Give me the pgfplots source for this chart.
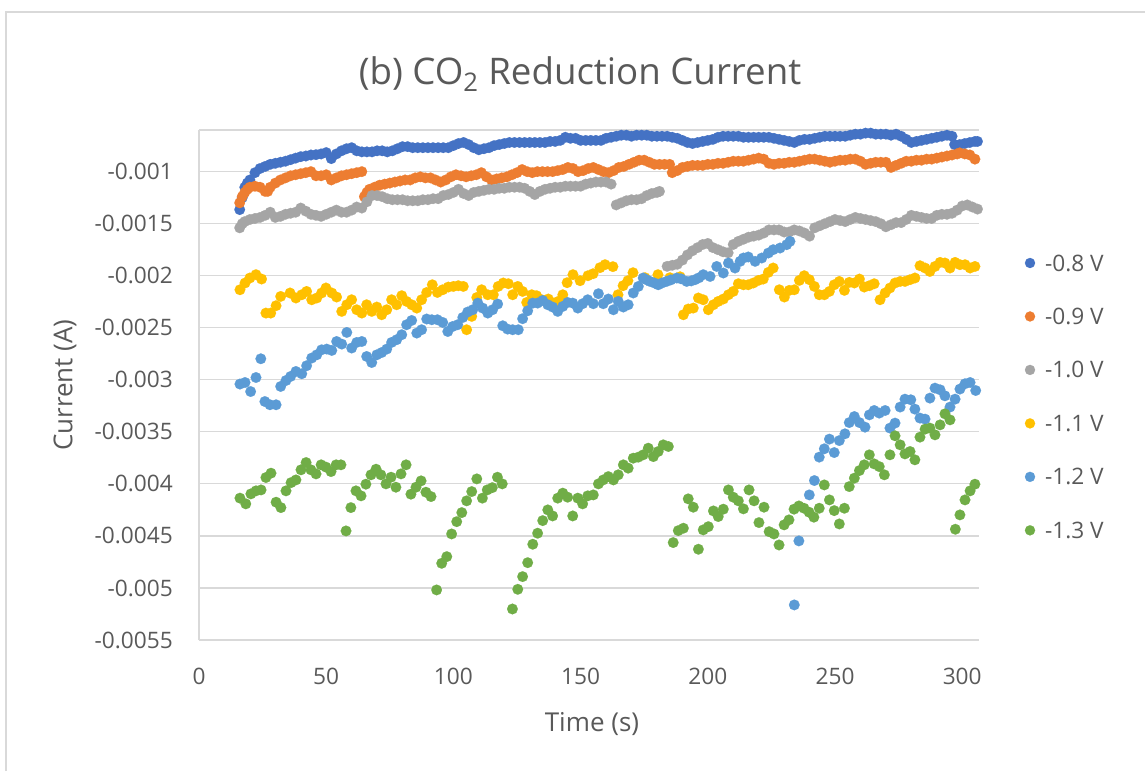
\documentclass[border=0pt]{standalone}
\usepackage{pgfplots}
\pgfplotsset{compat=1.18}
\usepackage{fontspec}
\setmainfont{Open Sans}
\definecolor{cA}{HTML}{4472C4}
\definecolor{cB}{HTML}{ED7D31}
\definecolor{cC}{HTML}{A5A5A5}
\definecolor{cD}{HTML}{FFC000}
\definecolor{cE}{HTML}{5B9BD5}
\definecolor{cF}{HTML}{70AD47}
\definecolor{txt}{HTML}{595959}
\definecolor{grd}{HTML}{D9D9D9}
\pgfplotsset{dot/.style={only marks, mark=*, mark size=4.0pt, color=#1, mark options={fill=#1, draw=#1, line width=0.1pt}}}
\begin{document}
\begin{tikzpicture}
\begin{axis}[
  name=ax, at={(0pt,0pt)}, anchor=south west,
  scale only axis, width=585pt, height=382.5pt,
  xmin=0, xmax=306.6, ymin=-0.0055, ymax=-0.0006,
  clip=false,
  axis x line*=bottom, axis y line*=left,
  axis line style={draw=grd, line width=0.9pt, -},
  xtick={0,50,100,150,200,250,300},
  xticklabels={0,50,100,150,200,250,300},
  ytick={-0.0055,-0.005,-0.0045,-0.004,-0.0035,-0.003,-0.0025,-0.002,-0.0015,-0.001},
  yticklabels={-0.0055,-0.005,-0.0045,-0.004,-0.0035,-0.003,-0.0025,-0.002,-0.0015,-0.001},
  scaled y ticks=false, scaled x ticks=false,
  extra y ticks={-0.0006}, extra y tick labels={},
  extra y tick style={grid=major},
  major tick length=0pt,
  ymajorgrids, grid style={draw=grd, line width=0.9pt},
  tick label style={font=\fontsize{17pt}{20pt}\selectfont, text=txt, inner sep=0pt},
  xticklabel style={anchor=north, yshift=-21pt},
  yticklabel style={anchor=east, xshift=-19.5pt},
  legend style={at={(axis description cs:1.0589,0.7549)}, anchor=north west, draw=none, fill=none,
    inner sep=0pt, outer sep=0pt, row sep=28.1pt, column sep=7.5pt,
    font=\fontsize{17pt}{20pt}\selectfont, text=txt,
    nodes={inner sep=0pt, text height=12pt, text depth=0pt}},
  legend cell align=left,
  legend image code/.code={\draw[#1, mark size=3.8pt] plot coordinates {(0pt,0pt)};},
]
% -0.8 V
\addplot[dot=cA] coordinates {
(16,-0.001365)(17,-0.00125)(18,-0.00115)(19,-0.00111)(20,-0.00108)(22,-0.00101)(24,-0.00097)(26,-0.00095)(28,-0.00093)(30,-0.00092)
(32,-0.00091)(34,-0.0009)(36,-0.000885)(38,-0.00087)(40,-0.000856)(42,-0.00085)(44,-0.00084)(46,-0.000837)(48,-0.00083)(50,-0.000817)
(52,-0.000875)(54,-0.00083)(56,-0.0008)(58,-0.00078)(60,-0.00077)(62,-0.0008)(64,-0.00081)(66,-0.00081)(68,-0.00081)(70,-0.0008)
(72,-0.0008)(74,-0.00081)(76,-0.0008)(78,-0.00078)(80,-0.00076)(82,-0.00076)(84,-0.00077)(86,-0.00077)(88,-0.00077)(90,-0.00077)
(92,-0.00077)(94,-0.00077)(96,-0.00077)(98,-0.00077)(100,-0.00075)(102,-0.00073)(104,-0.00072)(106,-0.00074)(108,-0.00077)(110,-0.00079)
(112,-0.00078)(114,-0.00077)(116,-0.00075)(118,-0.00074)(120,-0.00073)(122,-0.00072)(124,-0.00072)(126,-0.00072)(128,-0.00072)(130,-0.00072)
(132,-0.00072)(134,-0.00072)(136,-0.00072)(138,-0.00071)(140,-0.00071)(142,-0.0007)(144,-0.00067)(146,-0.00068)(148,-0.00068)(150,-0.0007)
(152,-0.0007)(154,-0.0007)(156,-0.0007)(158,-0.0007)(160,-0.00068)(162,-0.00067)(164,-0.00066)(166,-0.00065)(168,-0.00065)(170,-0.00066)
(172,-0.00065)(174,-0.00065)(176,-0.00065)(178,-0.00066)(180,-0.00066)(182,-0.00066)(184,-0.00066)(186,-0.00067)(188,-0.00068)(190,-0.0007)
(192,-0.00072)(194,-0.00073)(196,-0.00072)(198,-0.00071)(200,-0.0007)(202,-0.00069)(204,-0.00067)(206,-0.00066)(208,-0.00066)(210,-0.00066)
(212,-0.00066)(214,-0.00067)(216,-0.00067)(218,-0.00067)(220,-0.00067)(222,-0.00067)(224,-0.00067)(226,-0.00068)(228,-0.00069)(230,-0.0007)
(232,-0.00071)(234,-0.00072)(236,-0.0007)(238,-0.00069)(240,-0.00069)(242,-0.00068)(244,-0.00067)(246,-0.00066)(248,-0.00066)(250,-0.00066)
(252,-0.00066)(254,-0.00066)(256,-0.00065)(258,-0.00064)(260,-0.00064)(262,-0.00063)(264,-0.00063)(266,-0.00064)(268,-0.00064)(270,-0.00064)
(272,-0.00065)(274,-0.00064)(276,-0.00066)(278,-0.00069)(280,-0.00072)(282,-0.00071)(284,-0.0007)(286,-0.00069)(288,-0.00068)(290,-0.00067)
(292,-0.00066)(294,-0.00065)(296,-0.00066)(297,-0.00074)(299,-0.00074)(301,-0.00073)(303,-0.00072)(305,-0.00071)(306,-0.00071)
};
\addlegendentry{-0.8 V}
% -0.9 V
\addplot[dot=cB] coordinates {
(16,-0.0013)(17,-0.00124)(18,-0.0012)(19,-0.00117)(20,-0.00115)(22,-0.00114)(24,-0.00115)(26,-0.00119)(27,-0.00119)(28,-0.00115)
(30,-0.00111)(32,-0.00108)(34,-0.00106)(36,-0.00104)(38,-0.00103)(40,-0.00102)(42,-0.00101)(44,-0.001)(46,-0.00104)(48,-0.00104)
(50,-0.00103)(52,-0.00108)(54,-0.00106)(56,-0.00104)(58,-0.00103)(60,-0.00102)(62,-0.00101)(64,-0.001)
(65,-0.00124)(66,-0.0012)(67,-0.00117)(69,-0.00115)(71,-0.00113)(73,-0.00112)(75,-0.00111)(77,-0.0011)(79,-0.00109)(81,-0.00108)
(83,-0.00108)(85,-0.00106)(87,-0.00105)(89,-0.00106)(91,-0.00106)(93,-0.00108)(95,-0.0011)(97,-0.00108)(99,-0.00105)(101,-0.00103)
(103,-0.00104)(105,-0.00105)(107,-0.00104)(109,-0.00103)(111,-0.00101)(113,-0.00105)(115,-0.00108)(117,-0.00107)(119,-0.00106)(121,-0.00105)
(123,-0.00103)(125,-0.00101)(127,-0.00098)(129,-0.001)(131,-0.00101)(133,-0.001)(135,-0.001)(137,-0.001)(139,-0.001)(141,-0.00099)
(143,-0.00098)(145,-0.00096)(147,-0.00097)(149,-0.001)(151,-0.00099)(153,-0.00097)(155,-0.00096)(157,-0.00098)(159,-0.001)(161,-0.00101)
(163,-0.00099)(165,-0.00096)(167,-0.00095)(169,-0.00093)(171,-0.00091)(173,-0.00089)(175,-0.00089)(177,-0.00091)(179,-0.00093)(181,-0.00093)
(183,-0.00093)(185,-0.00093)(186,-0.00101)(188,-0.00099)(190,-0.00096)(192,-0.00095)(194,-0.00094)(196,-0.00094)(198,-0.00094)(200,-0.00093)
(202,-0.00093)(204,-0.00092)(206,-0.00092)(208,-0.00091)(210,-0.0009)(212,-0.0009)(214,-0.0009)(216,-0.00089)(218,-0.00088)(220,-0.00087)
(222,-0.00088)(224,-0.00092)(226,-0.00093)(228,-0.00092)(230,-0.00092)(232,-0.00091)(234,-0.00091)(236,-0.0009)(238,-0.00089)(240,-0.00088)
(242,-0.00088)(244,-0.00089)(246,-0.0009)(248,-0.00091)(250,-0.0009)(252,-0.00089)(254,-0.00089)(256,-0.00088)(258,-0.00088)(260,-0.0009)
(262,-0.00093)(264,-0.00092)(266,-0.00091)(268,-0.00091)(270,-0.00091)(272,-0.00096)(274,-0.00094)(276,-0.00092)(278,-0.0009)(280,-0.0009)
(282,-0.00089)(284,-0.00089)(286,-0.00088)(288,-0.00088)(290,-0.00087)(292,-0.00086)(294,-0.00085)(296,-0.00084)(298,-0.00083)(299,-0.00082)
(301,-0.00083)(303,-0.00084)(305,-0.00088)
};
\addlegendentry{-0.9 V}
% -1.0 V
\addplot[dot=cC] coordinates {
(16,-0.00154)(17,-0.0015)(18,-0.00148)(20,-0.00146)(22,-0.00145)(24,-0.00144)(26,-0.00142)(28,-0.00139)(30,-0.00144)(32,-0.00143)
(34,-0.00141)(36,-0.0014)(38,-0.00139)(40,-0.00135)(42,-0.00138)(44,-0.00141)(46,-0.00142)(48,-0.00143)(50,-0.00141)(52,-0.00139)
(54,-0.00137)(56,-0.00139)(58,-0.00139)(60,-0.00137)(62,-0.00134)(64,-0.00135)(66,-0.00129)(68,-0.00123)(70,-0.00123)(72,-0.00124)
(74,-0.00126)(76,-0.00127)(78,-0.00127)(80,-0.00127)(82,-0.00128)(84,-0.00128)(86,-0.00128)(88,-0.00127)(90,-0.00127)(92,-0.00126)
(94,-0.00126)(96,-0.00123)(98,-0.00122)(100,-0.0012)(102,-0.00117)(104,-0.00121)(106,-0.00123)(108,-0.0012)(110,-0.00119)(112,-0.00118)
(114,-0.00117)(116,-0.00117)(118,-0.00116)(120,-0.00116)(122,-0.00115)(124,-0.00115)(126,-0.00115)(128,-0.00116)(130,-0.00119)(132,-0.00122)
(134,-0.00119)(136,-0.00117)(138,-0.00116)(140,-0.00115)(142,-0.00115)(144,-0.00114)(146,-0.00114)(148,-0.00114)(150,-0.00114)(152,-0.00112)
(154,-0.00111)(156,-0.0011)(158,-0.0011)(160,-0.0011)(162,-0.00112)
(164,-0.00132)(166,-0.0013)(168,-0.00128)(170,-0.00127)(172,-0.00127)(174,-0.00126)(176,-0.00123)(178,-0.00121)(180,-0.0012)(181,-0.00119)
(184,-0.00191)(186,-0.0019)(188,-0.00189)(190,-0.00185)(192,-0.0018)(194,-0.00176)(196,-0.00173)(198,-0.0017)(200,-0.00169)(202,-0.00173)
(204,-0.00175)(206,-0.00177)(208,-0.00178)(210,-0.0017)(212,-0.00167)(214,-0.00165)(216,-0.00163)(218,-0.00162)(220,-0.00161)(222,-0.00159)
(224,-0.00156)(226,-0.00156)(228,-0.00156)(230,-0.00158)(232,-0.00158)(234,-0.00156)(236,-0.00157)(238,-0.00159)(240,-0.00162)(242,-0.00154)
(244,-0.00152)(246,-0.0015)(248,-0.00148)(250,-0.00146)(252,-0.00147)(254,-0.00148)(256,-0.00146)(258,-0.00144)(260,-0.00145)(262,-0.00146)
(264,-0.00147)(266,-0.00148)(268,-0.0015)(270,-0.00153)(272,-0.00151)(274,-0.00149)(276,-0.00149)(278,-0.00146)(280,-0.00142)(282,-0.00143)
(284,-0.00144)(286,-0.00145)(288,-0.00145)(290,-0.00142)(292,-0.00141)(294,-0.00141)(296,-0.0014)(298,-0.00137)(300,-0.00133)(302,-0.00132)
(304,-0.00134)(306,-0.00136)
};
\addlegendentry{-1.0 V}
% -1.1 V
\addplot[dot=cD] coordinates {
(16.1,-0.002135)(18.1,-0.00207)(20.0,-0.002022)(22.4,-0.00199)(24.6,-0.002032)(26.3,-0.002359)(28.2,-0.002359)(30.3,-0.002288)(32.1,-0.002199)(35.8,-0.002166)
(38.1,-0.002214)(40.4,-0.002183)(42.3,-0.002151)(44.3,-0.002231)(46.3,-0.002214)(48.2,-0.002166)(49.9,-0.002118)(52.2,-0.002166)(54.1,-0.002205)(56.1,-0.002343)
(58.1,-0.002279)(60.0,-0.002231)(62.0,-0.002327)(64.0,-0.002359)(65.9,-0.002279)(67.9,-0.002343)(69.9,-0.002301)(71.8,-0.002375)(73.8,-0.002327)(75.7,-0.002231)
(77.7,-0.002279)(79.7,-0.002192)(81.6,-0.002247)(83.6,-0.002279)(85.6,-0.002311)(87.5,-0.002231)(89.5,-0.002161)(91.7,-0.002087)(93.7,-0.002161)(95.8,-0.002135)
(98.0,-0.002109)(100.0,-0.002103)(101.9,-0.002096)(103.9,-0.002103)(105.2,-0.002519)(107.2,-0.002391)(109.2,-0.002209)(111.1,-0.002135)(113.5,-0.002183)(115.7,-0.002183)
(117.6,-0.002103)(119.6,-0.00207)(121.6,-0.002077)(123.3,-0.002183)(125.3,-0.002103)(127.2,-0.002151)(128.8,-0.002257)(130.8,-0.002183)(132.7,-0.002192)(134.7,-0.002231)
(137.3,-0.002224)(139.3,-0.002263)(141.2,-0.002247)(143.0,-0.002183)(144.7,-0.002067)(147.0,-0.00199)(149.8,-0.002048)(152.9,-0.002)(154.9,-0.001981)(157.6,-0.001923)
(159.6,-0.001894)(162.7,-0.001913)(164.7,-0.002183)(166.7,-0.002096)(168.6,-0.002048)(170.6,-0.001971)(175.3,-0.002019)(180.4,-0.00199)(185.1,-0.002019)(189.1,-0.00201)
(190.4,-0.002375)(192.3,-0.00232)(194.3,-0.002311)(196.3,-0.002214)(198.2,-0.002231)(200.2,-0.002327)(202.2,-0.002279)(204.1,-0.002247)(206.1,-0.002224)(208.1,-0.002183)
(210.0,-0.002151)(212.0,-0.002077)(214.0,-0.002087)(215.9,-0.002087)(217.9,-0.00207)(219.9,-0.002045)(221.8,-0.002032)(223.8,-0.001968)(225.7,-0.001926)
(228.1,-0.002135)(230.1,-0.002205)(232.0,-0.002141)(234.0,-0.002135)(236.0,-0.002045)(237.9,-0.002)(239.9,-0.002038)(241.9,-0.002103)(243.8,-0.002183)(245.8,-0.002183)
(247.8,-0.002151)(249.7,-0.002087)(251.7,-0.002055)(253.7,-0.002141)(255.6,-0.002064)(257.6,-0.00207)(259.6,-0.002032)(261.5,-0.002109)(263.5,-0.002096)(265.4,-0.002077)
(267.7,-0.002231)(269.7,-0.002166)(271.6,-0.002118)(273.6,-0.00207)(275.6,-0.002055)(277.5,-0.002055)(279.5,-0.002038)(281.4,-0.002022)(283.4,-0.001904)(285.4,-0.001926)
(287.3,-0.001959)(289.3,-0.001911)(291.3,-0.001872)(293.2,-0.001878)(295.2,-0.001926)(297.2,-0.001872)(299.1,-0.001894)(301.1,-0.001894)(303.1,-0.001926)(305.0,-0.001911)
};
\addlegendentry{-1.1 V}
% -1.2 V
\addplot[dot=cE] coordinates {
(16.1,-0.003041)(18.1,-0.003026)(20.3,-0.003113)(22.4,-0.002978)(24.3,-0.002798)(25.9,-0.003209)(27.9,-0.00324)(30.3,-0.00324)(32.1,-0.003064)(34.2,-0.003007)
(36.0,-0.002968)(38.1,-0.00292)(40.4,-0.002942)(42.3,-0.002865)(44.3,-0.002791)(46.3,-0.00276)(48.2,-0.002712)(50.2,-0.002705)(52.2,-0.002718)(54.1,-0.002632)
(56.1,-0.002657)(58.1,-0.002545)(60.0,-0.002695)(62.0,-0.002641)(64.0,-0.002632)(65.9,-0.002776)(67.9,-0.002834)(69.9,-0.00276)(71.8,-0.002738)(73.8,-0.002705)
(75.7,-0.002641)(77.7,-0.002615)(79.7,-0.002567)(81.6,-0.002471)(83.6,-0.00243)(85.6,-0.002551)(87.5,-0.002519)(89.5,-0.002416)(91.5,-0.002423)(93.7,-0.002423)
(95.8,-0.002449)(97.8,-0.002536)(99.7,-0.002488)(101.7,-0.002471)(103.7,-0.002401)(105.6,-0.002349)(107.6,-0.002327)(109.6,-0.002263)(111.5,-0.002311)(113.5,-0.002359)
(115.4,-0.002327)(117.4,-0.002272)(119.4,-0.002481)(121.3,-0.002513)(123.3,-0.002519)(125.5,-0.002519)(127.2,-0.002413)(129.2,-0.002337)(131.2,-0.002263)(133.1,-0.002263)
(135.1,-0.002238)(137.1,-0.002279)(139.0,-0.002301)(141.0,-0.002343)(143.0,-0.002295)(144.9,-0.002257)(146.9,-0.002263)(148.9,-0.002311)(150.8,-0.002269)(152.8,-0.002231)
(155.0,-0.002269)(157.0,-0.002173)(158.9,-0.002269)(160.9,-0.002224)(162.9,-0.002327)(164.8,-0.002247)(166.8,-0.002301)(168.7,-0.002279)(170.7,-0.002166)(172.7,-0.002103)
(174.6,-0.002022)(176.0,-0.00204)(177.3,-0.002055)(179.0,-0.00207)(180.5,-0.002087)(182.0,-0.00207)(183.8,-0.002055)(185.5,-0.00204)(187.8,-0.002022)(189.5,-0.00203)
(191.7,-0.002055)(193.5,-0.00205)(195.0,-0.002038)(196.5,-0.00202)(198.2,-0.00199)(200.9,-0.002007)(203.5,-0.001911)(206.1,-0.001974)(208.1,-0.001878)(210.7,-0.001926)
(212.7,-0.001862)(214.0,-0.00183)(215.9,-0.00182)(218.6,-0.001862)(221.2,-0.00183)(223.8,-0.001782)(225.7,-0.00175)(228.4,-0.001734)(231.0,-0.001702)(232.3,-0.00167)
(234.0,-0.005163)(235.8,-0.004548)(239.9,-0.004106)(241.9,-0.003968)(243.8,-0.003743)(245.8,-0.003663)(247.8,-0.00357)(249.7,-0.003699)(251.7,-0.003584)(253.9,-0.003519)
(255.6,-0.003411)(257.6,-0.003353)(259.6,-0.003411)(261.8,-0.003455)(263.5,-0.003337)(265.4,-0.003295)(267.4,-0.00332)(269.7,-0.003295)(271.6,-0.003464)(273.6,-0.003416)
(275.6,-0.003262)(277.5,-0.003186)(279.8,-0.003192)(281.4,-0.003282)(283.4,-0.003368)(285.4,-0.003378)(287.3,-0.003176)(289.3,-0.00308)(291.3,-0.003096)(293.2,-0.003154)
(295.2,-0.003262)(297.2,-0.003186)(299.1,-0.003089)(301.1,-0.003038)(303.1,-0.003026)(305.3,-0.003103)
};
\addlegendentry{-1.2 V}
% -1.3 V
\addplot[dot=cF] coordinates {
(16.1,-0.004137)(18.4,-0.004192)(20.4,-0.004096)(22.4,-0.004067)(24.4,-0.004058)(26.3,-0.003939)(28.3,-0.003897)(30.3,-0.004176)(32.2,-0.004228)(34.2,-0.004067)
(36.2,-0.003988)(38.1,-0.003962)(40.1,-0.003865)(42.1,-0.003795)(44.0,-0.003865)(46.0,-0.003904)(48.0,-0.003817)(49.9,-0.003839)(51.9,-0.003882)(53.9,-0.003817)
(55.8,-0.003817)(57.8,-0.004452)(59.7,-0.004228)(61.7,-0.004067)(63.7,-0.004115)(65.6,-0.004003)(67.6,-0.003913)(69.6,-0.003859)(71.5,-0.003913)(73.5,-0.004)
(75.5,-0.003936)(77.4,-0.004032)(79.4,-0.003904)(81.4,-0.003817)(83.3,-0.004099)(85.3,-0.004032)(87.3,-0.003971)(89.2,-0.00408)(91.2,-0.004122)(93.4,-0.005019)
(95.4,-0.004763)(97.4,-0.004699)(99.3,-0.004481)(101.3,-0.004363)(103.3,-0.004276)(105.2,-0.004163)(107.2,-0.004074)(109.2,-0.003952)(111.4,-0.004137)(113.3,-0.004058)
(115.3,-0.004036)(117.3,-0.003936)(119.2,-0.004)(123.2,-0.005202)(125.3,-0.005013)(127.2,-0.004891)(129.2,-0.004757)(131.2,-0.00458)(133.1,-0.004474)(135.1,-0.004353)
(137.1,-0.00425)(139.0,-0.004308)(141.0,-0.004137)(143.0,-0.004089)(144.9,-0.004128)(146.9,-0.004308)(148.9,-0.004137)(150.8,-0.004192)(152.8,-0.004115)(155.0,-0.004106)
(157.0,-0.004)(158.9,-0.003962)(160.9,-0.00393)(162.9,-0.003962)(164.8,-0.003913)(166.8,-0.003817)(168.7,-0.003849)(170.7,-0.003753)(172.7,-0.003743)(174.6,-0.003721)
(176.6,-0.003657)(178.6,-0.003738)(180.5,-0.003689)(182.5,-0.003625)(184.5,-0.003641)(186.4,-0.004564)(188.4,-0.004449)(190.4,-0.004426)(192.3,-0.004144)(194.3,-0.004224)
(196.3,-0.004628)(198.2,-0.004442)(200.2,-0.004411)(202.2,-0.00426)(204.1,-0.004314)(206.1,-0.004243)(208.1,-0.004058)(210.0,-0.004128)(212.0,-0.004163)(214.0,-0.00424)
(216.2,-0.004058)(218.2,-0.004163)(220.1,-0.004372)(222.1,-0.004224)(224.1,-0.004459)(226.0,-0.004481)(228.0,-0.004587)(230.0,-0.004394)(231.9,-0.004346)(233.9,-0.004243)
(235.8,-0.004212)(237.8,-0.004234)(239.8,-0.004272)(241.7,-0.00432)(243.8,-0.004234)(245.8,-0.00401)(247.8,-0.004154)(249.7,-0.004257)(251.7,-0.004385)(253.7,-0.004234)
(255.6,-0.004026)(257.6,-0.003945)(259.6,-0.003872)(261.5,-0.003817)(263.5,-0.003721)(265.4,-0.003808)(267.4,-0.003834)(269.4,-0.003913)(271.6,-0.003721)(273.6,-0.003538)
(275.6,-0.003625)(277.5,-0.003712)(279.5,-0.003689)(281.4,-0.003769)(283.4,-0.003551)(285.4,-0.003474)(287.3,-0.003464)(289.3,-0.003529)(291.3,-0.003433)(293.2,-0.003327)
(295.2,-0.003385)(297.3,-0.004436)(299.1,-0.004298)(301.1,-0.004154)(303.1,-0.004067)(305.0,-0.004003)
};
\addlegendentry{-1.3 V}
\end{axis}
\node[font=\fontsize{27.5pt}{32pt}\selectfont, text=txt, anchor=base] at (285.75pt,416.5pt) {(b) CO\textsubscript{2} Reduction Current};
\node[font=\fontsize{19.5pt}{23pt}\selectfont, text=txt, anchor=base] at (294.75pt,-68.25pt) {Time (s)};
\node[font=\fontsize{19.5pt}{23pt}\selectfont, text=txt, rotate=90, anchor=center] at (-100.5pt,191.25pt) {Current (A)};
\draw[grd, line width=1.2pt] (-144.75pt,-98.25pt) -- (-144.75pt,471pt) -- (709.5pt,471pt);
\pgfresetboundingbox
\useasboundingbox (-149.25pt,-98.25pt) rectangle (709.5pt,480pt);
\end{tikzpicture}
\end{document}
